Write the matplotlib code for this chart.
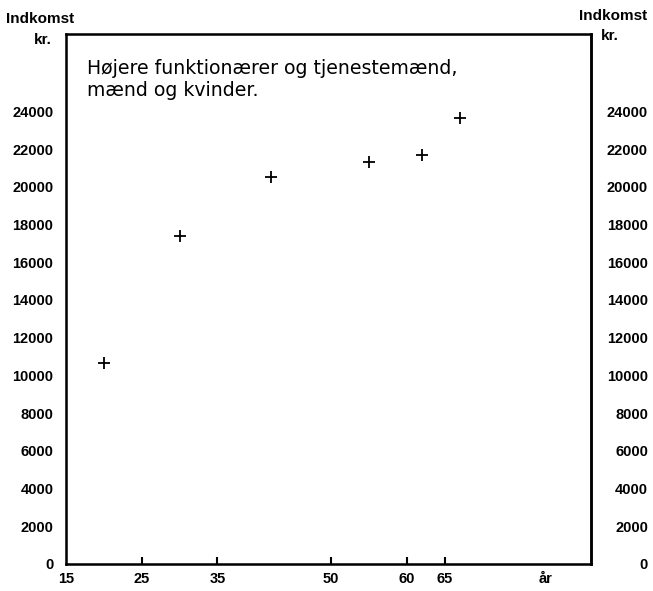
import numpy as np
import matplotlib
matplotlib.use("Agg")
import matplotlib.pyplot as plt

plt.rcParams['font.family'] = ['Liberation Sans', 'DejaVu Sans']

# alder (midtpunkt af aldersgruppe) og gennemsnitlig indkomst i kr.
alder = [20, 30, 42, 55, 62, 67]
indkomst = [10650, 17400, 20500, 21300, 21700, 23650]

yticks = np.arange(0, 24001, 2000)
xticks = [15, 25, 35, 50, 60, 65]
xlabels = ["15", "25", "35", "50", "60", "65"]

fig = plt.figure(figsize=(6.53, 5.91), dpi=100)
ax = fig.add_axes([0.101, 0.0457, 0.804, 0.8968])
ax.set_xlim(15, 84.3)
ax.set_ylim(0, 28100)

ax.plot(alder, indkomst, linestyle="none", marker="+", markersize=9,
        markeredgewidth=1.3, color="black")

for s in ax.spines.values():
    s.set_linewidth(1.8)

# x-akse: tal + "år"
ax.set_xticks(xticks + [78.3])
ax.set_xticklabels(xlabels + ["år"], fontsize=10.5, fontweight="bold")
ax.tick_params(axis="x", direction="in", length=5, width=1.5, pad=6)
ticks = ax.xaxis.get_major_ticks()
ticks[0].tick1line.set_visible(False)
ticks[-1].tick1line.set_visible(False)

# venstre y-akse
ax.set_yticks(yticks)
ax.set_yticklabels([str(v) for v in yticks], fontsize=10.5, fontweight="bold")
ax.tick_params(axis="y", length=0, pad=9)
ax.set_yticks([10000, 20000], minor=True)
ax.tick_params(axis="y", which="minor", direction="in", length=5, width=1.5)

# højre y-akse
ax2 = ax.twinx()
ax2.set_ylim(ax.get_ylim())
ax2.spines["right"].set_linewidth(1.8)
ax2.set_yticks(yticks)
ax2.set_yticklabels([str(v) for v in yticks], fontsize=10.5, fontweight="bold",
                    ha="right")
ax2.tick_params(axis="y", length=0, pad=41)
ax2.set_yticks([10000, 20000], minor=True)
ax2.tick_params(axis="y", which="minor", direction="in", length=5, width=1.5)

# akseoverskrifter
fig.text(6 / 653, 1 - 19 / 591, "Indkomst", fontsize=11, fontweight="bold",
         ha="left", va="center")
fig.text(52 / 653, 1 - 40 / 591, "kr.", fontsize=11, fontweight="bold",
         ha="right", va="center")
fig.text(647 / 653, 1 - 16 / 591, "Indkomst", fontsize=11, fontweight="bold",
         ha="right", va="center")
fig.text(601 / 653, 1 - 36 / 591, "kr.", fontsize=11, fontweight="bold",
         ha="left", va="center")

ax.text(87 / 653, 1 - 68 / 591, "Højere funktionærer og tjenestemænd,",
        transform=fig.transFigure, fontsize=13.6, family="DejaVu Sans",
        ha="left", va="center")
ax.text(87 / 653, 1 - 91 / 591, "mænd og kvinder.",
        transform=fig.transFigure, fontsize=13.6, family="DejaVu Sans",
        ha="left", va="center")

fig.savefig("out.png", dpi=100)
